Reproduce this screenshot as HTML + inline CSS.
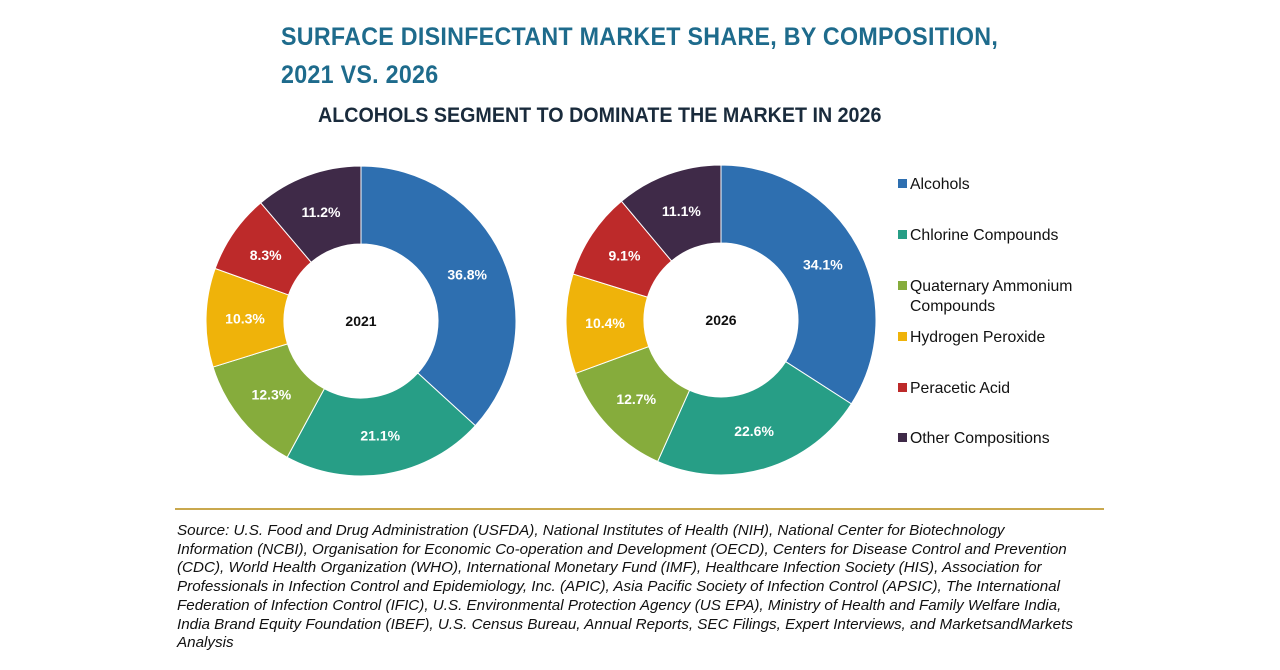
<!DOCTYPE html>
<html><head><meta charset="utf-8"><style>
body{margin:0;background:#fff;width:1280px;height:670px;overflow:hidden;font-family:"Liberation Sans",sans-serif;position:relative}
.t{position:absolute;left:281px;top:18px;color:#1e6b8c;font-weight:bold;font-size:25px;line-height:38px;letter-spacing:0.3px;transform:scaleX(0.93);transform-origin:left;white-space:nowrap}
.st{position:absolute;left:318px;top:104px;color:#1a2b3c;font-size:21px;font-weight:bold;transform:scaleX(0.937);transform-origin:left;white-space:nowrap}
.src{position:absolute;left:177px;top:522px;font-style:italic;font-size:15.2px;line-height:18.7px;color:#111;white-space:nowrap}
.sep{position:absolute;left:175px;top:508px;width:929px;height:2px;background:#c9a84e}
</style></head><body>
<div class="t">SURFACE DISINFECTANT MARKET SHARE, BY COMPOSITION,<br>2021 VS. 2026</div>
<div class="st">ALCOHOLS SEGMENT TO DOMINATE THE MARKET IN 2026</div>
<svg id="c" width="1280" height="670" style="position:absolute;left:0;top:0"></svg>
<div class="sep"></div>
<div class="src">Source: U.S. Food and Drug Administration (USFDA), National Institutes of Health (NIH), National Center for Biotechnology<br>Information (NCBI), Organisation for Economic Co-operation and Development (OECD), Centers for Disease Control and Prevention<br>(CDC), World Health Organization (WHO), International Monetary Fund (IMF), Healthcare Infection Society (HIS), Association for<br>Professionals in Infection Control and Epidemiology, Inc. (APIC), Asia Pacific Society of Infection Control (APSIC), The International<br>Federation of Infection Control (IFIC), U.S. Environmental Protection Agency (US EPA), Ministry of Health and Family Welfare India,<br>India Brand Equity Foundation (IBEF), U.S. Census Bureau, Annual Reports, SEC Filings, Expert Interviews, and MarketsandMarkets<br>Analysis</div>
<script>
const categories=["Alcohols","Chlorine Compounds","Quaternary Ammonium Compounds","Hydrogen Peroxide","Peracetic Acid","Other Compositions"];
const values2021=[36.8,21.1,12.3,10.3,8.3,11.2];
const values2026=[34.1,22.6,12.7,10.4,9.1,11.1];
const years=["2021","2026"];
const colors=["#2e6fb0","#279e86","#86ac3c","#efb30a","#bd2a2a","#3f2a48"];
const svg=document.getElementById('c');const NS="http://www.w3.org/2000/svg";
function mk(t,a){const e=document.createElementNS(NS,t);for(const k in a)e.setAttribute(k,a[k]);svg.appendChild(e);return e;}
function donut(vals,cx,cy,year){
  const R=155,r=77,tot=vals.reduce((a,b)=>a+b,0);let a0=0;
  vals.forEach((v,i)=>{
    const a1=a0+v/tot*2*Math.PI;
    const p=(a,rr)=>[cx+rr*Math.sin(a),cy-rr*Math.cos(a)];
    const [x1,y1]=p(a0,R),[x2,y2]=p(a1,R),[x3,y3]=p(a1,r),[x4,y4]=p(a0,r);
    const lg=(a1-a0)>Math.PI?1:0;
    const s=mk('path',{d:`M${x1},${y1}A${R},${R} 0 ${lg} 1 ${x2},${y2}L${x3},${y3}A${r},${r} 0 ${lg} 0 ${x4},${y4}Z`,fill:colors[i],stroke:'#fff','stroke-width':1});
    
    
    const am=(a0+a1)/2,[lx,ly]=p(am,(R+r)/2);
    const t=mk('text',{x:lx,y:ly+5,'text-anchor':'middle',fill:'#fff','font-size':14,'font-weight':'bold','font-family':'Liberation Sans'});
    t.textContent=v.toFixed(1)+'%';
    
    
    a0=a1;
  });
  const c=mk('text',{x:cx,y:cy+5,'text-anchor':'middle',fill:'#111','font-size':14,'font-weight':'bold','font-family':'Liberation Sans'});
  c.textContent=year;
  
  
}
donut(values2021,361,321,years[0]);
donut(values2026,721,320,years[1]);
const ly=[184,235,286,337,388,438];
categories.forEach((n,i)=>{
  const r=mk('rect',{x:898,y:ly[i]-5,width:9,height:9,fill:colors[i]});
  
  
  const t=mk('text',{x:910,y:ly[i]+5,fill:'#111','font-size':15.8,'font-family':'Liberation Sans'});
  
  
  if(i==2){t.innerHTML='<tspan x="910">Quaternary Ammonium</tspan><tspan x="910" dy="20">Compounds</tspan>';}
  else t.textContent=n;
});
</script>
</body></html>
